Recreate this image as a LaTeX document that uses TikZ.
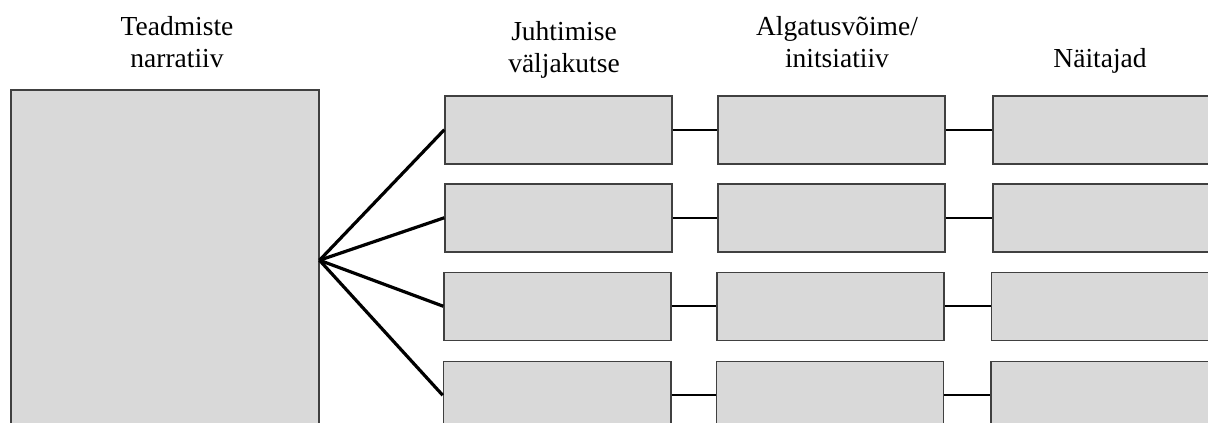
\documentclass[tikz,border=0pt]{standalone}
\usepackage{fontspec}
\setmainfont{Liberation Serif}
\definecolor{boxfill}{HTML}{D9D9D9}
\definecolor{boxline}{HTML}{404040}
\begin{document}
\begin{tikzpicture}[x=1pt,y=-1pt,
  gbox/.style={draw=boxline, fill=boxfill, line width=1.5pt, rectangle, inner sep=0pt, anchor=north west},
  cbox/.style={gbox, minimum width=227pt, minimum height=68pt},
  hdr/.style={align=center, anchor=base, inner sep=0pt, font=\fontsize{27.5}{31.5}\selectfont},
  link/.style={line width=2pt, black},
  fan/.style={line width=3.2pt, black}]
\useasboundingbox (0,0) rectangle (1208,423);
\clip (0,0) rectangle (1208,423);
\fill[white] (0,0) rectangle (1208,423);
% headers
\node[hdr] (h0) at (177,67) {Teadmiste\\narratiiv};
\node[hdr] (h1) at (564,72) {Juhtimise\\väljakutse};
\node[hdr] (h2) at (837,67) {Algatusvõime/\\initsiatiiv};
\node[hdr] (h3) at (1100,67) {Näitajad};
% big box
\node[gbox, minimum width=308pt, minimum height=341pt] (big) at (10,89) {};
% column 1
\node[cbox] (a1) at (444.3,95) {};
\node[cbox] (a2) at (444.3,183) {};
\node[cbox, minimum width=226.7pt] (a3) at (443.3,271.5) {};
\node[cbox, minimum width=227.3pt] (a4) at (442.7,360.5) {};
% column 2
\node[cbox] (b1) at (717,95) {};
\node[cbox] (b2) at (717.3,183) {};
\node[cbox] (b3) at (716,271.5) {};
\node[cbox] (b4) at (715.7,360.5) {};
% column 3
\node[cbox, minimum width=240pt] (c1) at (992.3,95) {};
\node[cbox, minimum width=240pt] (c2) at (992.3,183) {};
\node[cbox, minimum width=240pt] (c3) at (990.7,271.5) {};
\node[cbox, minimum width=240pt] (c4) at (990.3,360.5) {};
% links
\foreach \i in {1,2,3,4}{
  \draw[link] (a\i.east) -- (b\i.west);
  \draw[link] (b\i.east) -- (c\i.west);
  \draw[fan] (big.east) -- (a\i.west);
}
\end{tikzpicture}
\end{document}
